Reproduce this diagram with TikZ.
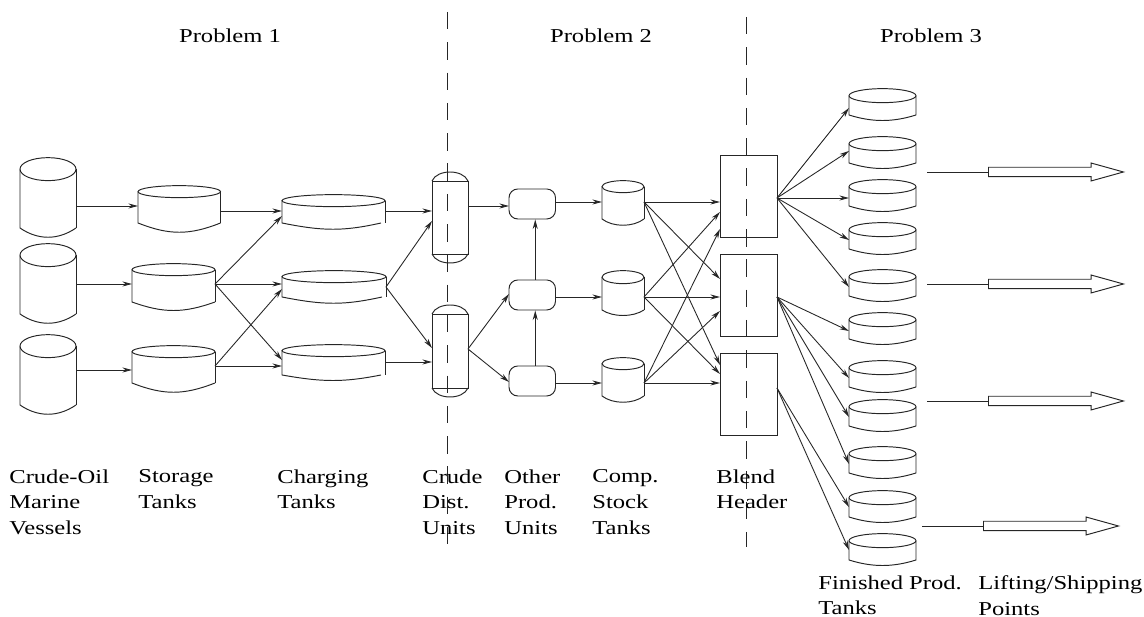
\documentclass[tikz,border=0pt]{standalone}
\usepackage{fontspec}
\setmainfont[FakeStretch=1.25]{Liberation Serif}
\usetikzlibrary{arrows.meta,calc,fit,shapes.arrows}
\tikzset{flow/.style={-{Stealth[length=1.9mm,width=1mm,inset=.6mm]},draw=black!85,line width=.5pt},
tankline/.style={draw=black!85,line width=.55pt},
lbl/.style={font=\fontsize{11.2}{14.7}\selectfont,align=left,anchor=north west,inner sep=0pt},
ttl/.style={font=\fontsize{11.2}{14.7}\selectfont,inner sep=0pt},
cut/.style={draw=black!85,line width=.55pt,dash pattern=on .35cm off .256cm},
unitbox/.style={draw=black!85,line width=.55pt,inner sep=0pt},
ship/.style={single arrow,draw=black!85,line width=.55pt,inner xsep=0pt,inner ysep=.085cm,minimum width=.35cm,minimum height=2.7cm,single arrow head extend=.085cm,single arrow tip angle=31,single arrow head indent=0pt}}
\begin{document}
\begin{tikzpicture}[x=.02cm,y=-.02cm]
\useasboundingbox (0,0) rectangle (1144,617);
% tanks: name/left/right/end of bottom curve/top/ellipse bottom/side bottom/lowest/port in/port out
\foreach \n/\xl/\xr/\xe/\yt/\ye/\ys/\yb/\pi/\po in {
v1/20/76/76/158/181/228/237/206/206,v2/20/76/76/244/267/314/323/284/284,v3/20/76/76/335/358/405/414/370/370,
s1/138/220.5/220.5/186/198/223/232/206/211,s2/132/215/215/264/276/302/310/284/284,s3/132/215/215/346/358/383/392/370/366,
c1/282/385/381/195/207/223/228/211/211,c2/282/386/382/271/283/297/302/284/287,c3/282/385/381/345/357/375/379/366/362,
k1/602/644/644/181/193/219/224/202/202,k2/602/644/644/271/284/310/314/297/297,k3/602/644/644/358/370/396/401/383/383}{
\node[inner sep=0pt,fit={(\xl,\yt)(\xr,\yb)}] (\n) {};
\coordinate (\n in) at (\xl,\pi);\coordinate (\n out) at (\xr,\po);
\draw[tankline] ($(\n.north)+(0,{(\ye-\yt)/2})$) ellipse [x radius={(\xr-\xl)/2*.02cm},y radius={(\ye-\yt)/2*.02cm}];
\draw[tankline] (\xl,{(\yt+\ye)/2})--(\xl,\ys) .. controls ($(\n.south)+(-10,3)$) and ($(\n.south)+(10,3)$) .. (\xe,\ys);
\draw[tankline] (\xr,\ys)--(\xr,{(\yt+\ye)/2});
}
% finished product tanks
\foreach \n/\yt/\pi in {t1/89/108,t2/137/151,t3/180/198,t4/223/240,t5/270/287,t6/313/331,t7/361/378,t8/400/417,t9/447/464,t10/491/507,t11/534/550}{
\node[inner sep=0pt,fit={(849,\yt)(916,\yt+31)}] (\n) {};
\coordinate (\n in) at (849,\pi);
\draw[tankline] ($(\n.north)+(0,7)$) ellipse [x radius=.67cm,y radius=.14cm];
\draw[tankline] (849,\yt+7)--(849,\yt+26) .. controls ($(\n.south)+(-10,2)$) and ($(\n.south)+(10,2)$) .. (916,\yt+26)--(916,\yt+7);
}
% distillation units
\foreach \n/\yt/\yl/\yu/\yb in {d1/172/181/254/263,d2/305/314/388/397}{
\node[inner sep=0pt,fit={(432,\yt)(468,\yb)}] (\n) {};
\draw[tankline] (432,\yl) rectangle (468,\yu);
\draw[tankline] (432,\yl) .. controls (437,\yt-3) and (463,\yt-3) .. (468,\yl);
\draw[tankline] (432,\yu) .. controls (437,\yb+3) and (463,\yb+3) .. (468,\yu);
}
\coordinate (d1in) at (432,211);\coordinate (d1out) at (468,206);
\coordinate (d2in) at (432,362);\coordinate (d2out) at (468,349);
% other production units
\foreach \n/\yt/\yb in {o1/189/219,o2/280/310,o3/366/396}{
\node[unitbox,rounded corners=5pt,fit={(509,\yt)(555.5,\yb)}] (\n) {};
}
\coordinate (o1in) at (509,206);\coordinate (o2in) at (509,294);\coordinate (o3in) at (509,382);
\coordinate (o1out) at (555.5,202);\coordinate (o2out) at (555.5,297);\coordinate (o3out) at (555.5,383);
% blend headers
\foreach \n/\yt/\yb in {b1/155/237,b2/254/336,b3/353/435}{
\node[unitbox,fit={(720,\yt)(777,\yb)}] (\n) {};
}
\coordinate (b1out) at (777,198);\coordinate (b2out) at (777,297);\coordinate (b3out) at (777,388);
\coordinate (b1in) at (720,202);\coordinate (b2in) at (720,297);\coordinate (b3in) at (720,383);
% flows
\foreach \a/\b in {v1/s1,v2/s2,v3/s3,s1/c1,c1/d1,d1/o1,o1/k1,o2/k2,o3/k3,k1/b1,k2/b2,k3/b3,s2/c2,c3/d2}{\draw[flow] (\a out)--(\b in);}
\draw[flow] (s2out)--($(c1in)+(0,5)$);
\draw[flow] (s2out)--($(c3in)+(0,-6)$);
\draw[flow] (s3out)--($(c2in)+(0,5)$);
\draw[flow] (s3out)--(c3in |- s3out);
\draw[flow] (c2out)--($(d1in)+(0,10)$);
\draw[flow] (c2out)--($(d2in)+(0,-14)$);
\draw[flow] (d2out)--(o2in);\draw[flow] (d2out)--(o3in);
\draw[flow] ($(o3.north)+(3,0)$)--($(o2.south)+(3,0)$);
\draw[flow] ($(o2.north)+(3,0)$)--($(o1.south)+(3,0)$);
\draw[flow] (k1out)--($(b2in)+(0,-18)$);\draw[flow] (k1out)--($(b3in)+(0,-18)$);
\draw[flow] (k2out)--($(b1in)+(0,10)$);\draw[flow] (k2out)--($(b3in)+(0,-9)$);
\draw[flow] (k3out)--($(b1in)+(0,27)$);\draw[flow] (k3out)--($(b2in)+(0,14)$);
\foreach \t in {t1,t2,t3,t4,t5}{\draw[flow] (b1out)--(\t in);}
\foreach \t in {t6,t7,t8,t9}{\draw[flow] (b2out)--(\t in);}
\foreach \t in {t10,t11}{\draw[flow] (b3out)--(\t in);}
% shipping points
\foreach \n/\x/\y in {p1/988/172,p2/988/284,p3/988/401,p4/983/526}{
\node[ship,anchor=tail] (\n) at (\x,\y) {};
\coordinate (\n from) at (\x-61,\y);
\draw[tankline] (\n from)--(\n.tail);
}
% problem boundaries
\draw[cut] (447,12)--(447,547);
\draw[cut] (746,17)--(746,547);
% labels
\node[ttl] (ttl1) at (230,36) {Problem 1};
\node[ttl] (ttl2) at (601,36) {Problem 2};
\node[ttl] (ttl3) at (931,36) {Problem 3};
\node[lbl] (lbl1) at (9,469) {Crude-Oil\\Marine\\Vessels};
\node[lbl] (lbl2) at (138,469) {Storage\\Tanks};
\node[lbl] (lbl3) at (277,469) {Charging\\Tanks};
\node[lbl] (lbl4) at (422,469) {Crude\\Dist.\\Units};
\node[lbl] (lbl5) at (504,469) {Other\\Prod.\\Units};
\node[lbl] (lbl6) at (592,469) {Comp.\\Stock\\Tanks};
\node[lbl] (lbl7) at (716,469) {Blend\\Header};
\node[lbl] (lbl8) at (818,575) {Finished Prod.\\Tanks};
\node[lbl] (lbl9) at (978,575) {Lifting/Shipping\\Points};
\end{tikzpicture}
\end{document}
